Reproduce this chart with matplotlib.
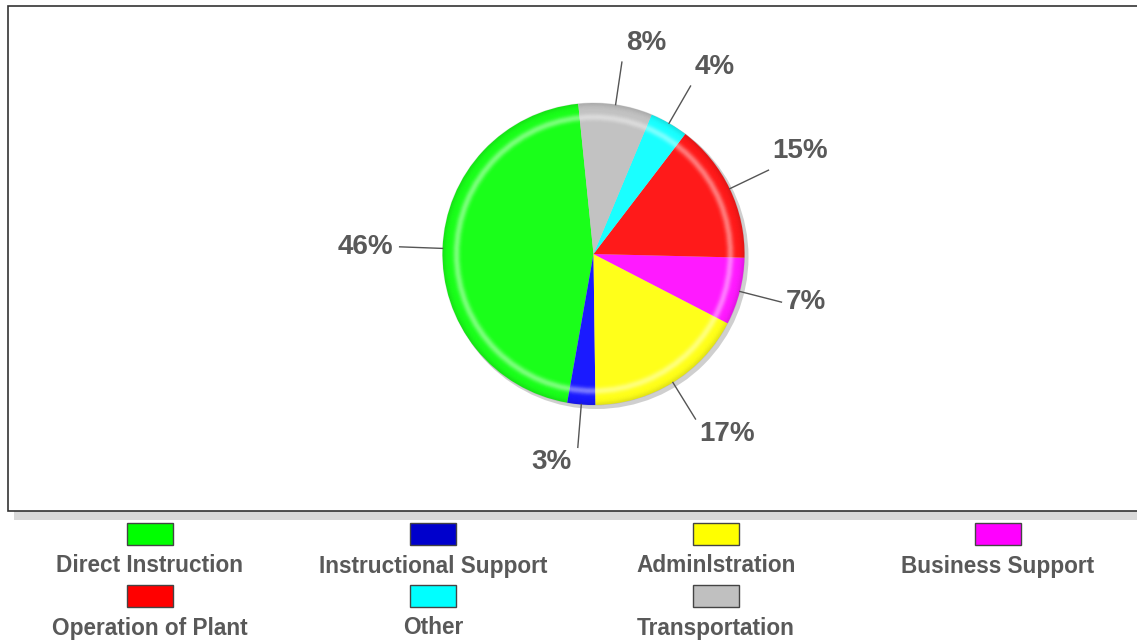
import matplotlib.pyplot as plt
import matplotlib.patches as mpatches
import numpy as np

categories = ['Direct Instruction', 'Instructional Support', 'Adminlstration', 'Business Support',
              'Operation of Plant', 'Other', 'Transportation']
shares = [45.6, 3.0, 17.2, 7.2, 15.0, 4.1, 7.9]
pct_labels = ['46%', '3%', '17%', '7%', '15%', '4%', '8%']
slice_colors = ['#1aff1a', '#1a1aff', '#ffff1a', '#ff1aff', '#ff1a1a', '#1affff', '#c2c2c2']
legend_colors = ['#00ff00', '#0000cc', '#ffff00', '#ff00ff', '#ff0000', '#00ffff', '#c0c0c0']

W, H = 1137, 641
fig = plt.figure(figsize=(W / 100, H / 100), dpi=100)
ax = fig.add_axes([0, 0, 1, 1])

txt_color = '#595959'
font = 'Liberation Sans'

# frame with shadow
ax.add_patch(mpatches.Rectangle((14, H - 520), W, 10, facecolor='#d9d9d9', edgecolor='none', zorder=0))
ax.add_patch(mpatches.Rectangle((8, H - 511), W + 10, 505, facecolor='white', edgecolor='#333333', lw=1.2, zorder=1))

cx, cy, R = 593.5, H - 254, 151
start = 95.8

# shadow
ax.add_patch(mpatches.Circle((cx + 3, cy - 3), R + 1, facecolor='#b0b0b0', edgecolor='none', alpha=0.6, zorder=2))

wedges, _ = ax.pie(shares, colors=slice_colors, startangle=start, counterclock=True,
                   center=(cx, cy), radius=R, wedgeprops=dict(linewidth=0), frame=True)
for w in wedges:
    w.set_zorder(3)
ax.set_xlim(0, W)
ax.set_ylim(0, H)
ax.set_aspect('equal')
ax.axis('off')

# ring highlight / rim shading
rs = np.linspace(0.80, 1.0, 60)
dr = rs[1] - rs[0]
for r in rs:
    a = 0.45 * np.exp(-((r - 0.905) / 0.022) ** 2)
    ax.add_patch(mpatches.Wedge((cx, cy), R * (r + dr), 0, 360, width=R * dr * 1.05,
                                facecolor='white', edgecolor='none', alpha=a, zorder=4))
    d = 0.10 * np.exp(-((r - 1.0) / 0.025) ** 2)
    ax.add_patch(mpatches.Wedge((cx, cy), R * (r + dr), 0, 360, width=R * dr * 1.05,
                                facecolor='black', edgecolor='none', alpha=d, zorder=4))

# labels with leader lines
theta = start
for val, lab in zip(shares, pct_labels):
    mid = np.deg2rad(theta + val * 3.6 / 2)
    theta += val * 3.6
    c, s = np.cos(mid), np.sin(mid)
    x0, y0 = cx + R * c, cy + R * s
    x1, y1 = cx + (R + 43) * c, cy + (R + 43) * s
    ax.plot([x0, x1], [y0, y1], color='#555555', lw=1, zorder=5)
    if c >= 0:
        ha, tx = 'left', x1 + 4
    else:
        ha, tx = 'right', x1 - 6
    if s > 0.35:
        ty = y1 + 19
    elif s < -0.35:
        ty = y1 - 15
    else:
        ty = y1
    ax.text(tx, ty, lab, ha=ha, va='center', fontsize=20, fontweight='bold',
            color=txt_color, family=font, zorder=6)

# legend
col_x = [150, 433, 716, 998]
for i, (name, col) in enumerate(zip(categories, legend_colors)):
    row, cidx = divmod(i, 4)
    px = col_x[cidx]
    py = H - 534 - row * 62
    ax.add_patch(mpatches.Rectangle((px - 23, py - 11), 46, 22, facecolor=col,
                                    edgecolor='#444444', lw=1, zorder=5))
    ax.text(px, py - 32, name, ha='center', va='center', fontsize=16.3, fontweight='bold',
            color=txt_color, family=font, zorder=6)

fig.savefig('out.png', dpi=100)
